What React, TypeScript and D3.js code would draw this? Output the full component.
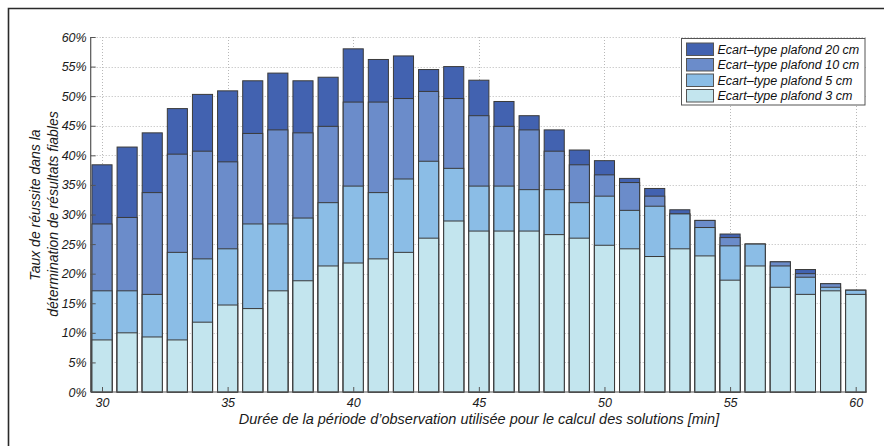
import React from 'react';
import * as d3 from 'd3';
import { useRef, useEffect } from 'react';

const durations = [30, 31, 32, 33, 34, 35, 36, 37, 38, 39, 40, 41, 42, 43, 44, 45, 46, 47, 48, 49, 50, 51, 52, 53, 54, 55, 56, 57, 58, 59, 60];

const sd20 = [38.4, 41.4, 43.8, 47.9, 50.3, 50.9, 52.6, 53.9, 52.6, 53.2, 58.0, 56.2, 56.8, 54.5, 55.0, 52.7, 49.1, 46.7, 44.3, 40.9, 39.1, 36.1, 34.4, 30.8, 29.0, 26.7, 25.0, 22.0, 20.7, 18.3, 17.2];
const sd10 = [28.4, 29.5, 33.7, 40.2, 40.7, 38.9, 43.7, 44.3, 43.8, 44.9, 49.0, 49.0, 49.6, 50.8, 49.6, 46.7, 44.9, 44.3, 40.7, 38.4, 36.7, 35.4, 33.1, 30.1, 29.0, 26.1, 25.0, 22.0, 20.0, 18.3, 17.2];
const sd5 = [17.1, 17.1, 16.5, 23.6, 22.5, 24.2, 28.4, 28.4, 29.4, 32.0, 34.8, 33.7, 36.0, 39.0, 37.8, 34.8, 34.8, 34.2, 34.2, 32.0, 33.1, 30.7, 31.4, 30.1, 27.8, 24.7, 25.0, 21.3, 19.4, 17.7, 17.2];
const sd3 = [8.8, 10.0, 9.3, 8.8, 11.8, 14.7, 14.1, 17.1, 18.8, 21.3, 21.8, 22.5, 23.6, 26.0, 28.9, 27.2, 27.2, 27.2, 26.6, 26.0, 24.8, 24.2, 22.9, 24.2, 23.0, 18.9, 21.3, 17.7, 16.5, 17.1, 16.5];

const seriesNames = ['Ecart\u2013type plafond 20 cm', 'Ecart\u2013type plafond 10 cm', 'Ecart\u2013type plafond 5 cm', 'Ecart\u2013type plafond 3 cm'];
const seriesValues = [sd20, sd10, sd5, sd3];
const colors = ['#4262b0', '#6b8cca', '#8bbde6', '#c3e5ee'];

const xTicks = [30, 35, 40, 45, 50, 55, 60];
const yTicks = [0, 5, 10, 15, 20, 25, 30, 35, 40, 45, 50, 55, 60];

const xTitle = 'Durée de la période d\u2019observation utilisée pour le calcul des solutions [min]';
const yTitle = ['Taux de réussite dans la', 'détermination de résultats fiables'];

const width = 884;
const height = 446;
const font = '"Liberation Sans", Arial, sans-serif';

function Chart() {
  const root = useRef<HTMLDivElement>(null);

  useEffect(() => {
    const left = 90.7;
    const right = 867;
    const top = 37;
    const bottom = 392;

    const x = d3.scaleLinear().domain([29.55, 60.45]).range([left, right]);
    const y = d3.scaleLinear().domain([0, 60]).range([bottom, top]);
    const barW = x(30.4) - x(29.6);

    const svg = d3
      .create('svg')
      .attr('width', width)
      .attr('height', height)
      .attr('viewBox', `0 0 ${width} ${height}`)
      .style('position', 'absolute')
      .style('left', '0px')
      .style('top', '0px')
      .style('background', '#fff')
      .style('font-family', font);

    // outer frame (only left and top visible)
    svg.append('path')
      .attr('d', `M8.5,${height + 5} V8.5 H${width + 5}`)
      .attr('fill', 'none')
      .attr('stroke', '#2a2a2a')
      .attr('stroke-width', 1.6);

    // grid
    const grid = svg.append('g')
      .attr('stroke', '#b8b8b8')
      .attr('stroke-width', 1)
      .attr('stroke-dasharray', '1,2');
    yTicks.filter(t => t > 0).forEach(t => {
      grid.append('line')
        .attr('x1', left).attr('x2', right)
        .attr('y1', Math.round(y(t)) + 0.5).attr('y2', Math.round(y(t)) + 0.5);
    });
    xTicks.forEach(t => {
      grid.append('line')
        .attr('x1', Math.round(x(t)) + 0.5).attr('x2', Math.round(x(t)) + 0.5)
        .attr('y1', top).attr('y2', bottom);
    });

    // bars: each threshold drawn from zero, widest threshold behind
    seriesValues.forEach((vals, si) => {
      svg.append('g')
        .selectAll('rect')
        .data(vals)
        .join('rect')
        .attr('x', (_, i) => x(durations[i]) - barW / 2)
        .attr('width', barW)
        .attr('y', d => y(d))
        .attr('height', d => y(0) - y(d))
        .attr('fill', colors[si])
        .attr('stroke', '#3a3a3a')
        .attr('stroke-width', 1);
    });

    // axes
    const yAxis = svg.append('g')
      .attr('transform', `translate(${left},0)`)
      .call(d3.axisLeft(y).tickValues(yTicks).tickSize(-5).tickPadding(4).tickFormat(d => `${d}%`));
    const xAxis = svg.append('g')
      .attr('transform', `translate(0,${bottom})`)
      .call(d3.axisBottom(x).tickValues(xTicks).tickSize(-5).tickPadding(6).tickSizeOuter(0));

    [xAxis, yAxis].forEach(g => {
      g.select('.domain').attr('stroke', '#555').attr('stroke-width', 1.2);
      g.selectAll('.tick line').attr('stroke', '#555');
      g.selectAll('.tick text')
        .attr('fill', '#1a1a1a')
        .attr('font-size', 12.5)
        .attr('font-style', 'italic')
        .attr('font-family', font);
    });
    yAxis.select('.domain').attr('d', `M0,${top}V${bottom}`);
    xAxis.select('.domain').attr('d', `M${left},0H${right}`);

    // titles
    svg.append('text')
      .attr('x', 479)
      .attr('y', 424)
      .attr('text-anchor', 'middle')
      .attr('font-size', 14.5)
      .attr('font-style', 'italic')
      .attr('fill', '#1a1a1a')
      .text(xTitle);

    const yt = svg.append('g').attr('font-size', 14).attr('font-style', 'italic').attr('fill', '#1a1a1a');
    yt.append('text')
      .attr('transform', 'translate(40,205) rotate(-90)')
      .attr('text-anchor', 'middle')
      .text(yTitle[0]);
    yt.append('text')
      .attr('transform', 'translate(57.5,214) rotate(-90)')
      .attr('text-anchor', 'middle')
      .text(yTitle[1]);

    // legend
    const lg = svg.append('g').attr('transform', 'translate(681.5,38.5)');
    lg.append('rect')
      .attr('width', 183.5)
      .attr('height', 66.5)
      .attr('fill', '#fff')
      .attr('stroke', '#555')
      .attr('stroke-width', 1);
    seriesNames.forEach((name, i) => {
      const row = lg.append('g').attr('transform', `translate(5,${4.5 + i * 15.5})`);
      row.append('rect')
        .attr('width', 27)
        .attr('height', 12.5)
        .attr('fill', colors[i])
        .attr('stroke', '#555')
        .attr('stroke-width', 1);
      row.append('text')
        .attr('x', 31)
        .attr('y', 10.5)
        .attr('font-size', 12.5)
        .attr('font-style', 'italic')
        .attr('fill', '#111')
        .text(name);
    });

    const node = root.current;
    node?.appendChild(svg.node() as Node);
    return () => {
      if (node && node.firstChild) {
        node.removeChild(node.firstChild);
      }
    };
  }, []);

  return <div ref={root} />;
}

export default function App() {
  return <Chart />;
}
